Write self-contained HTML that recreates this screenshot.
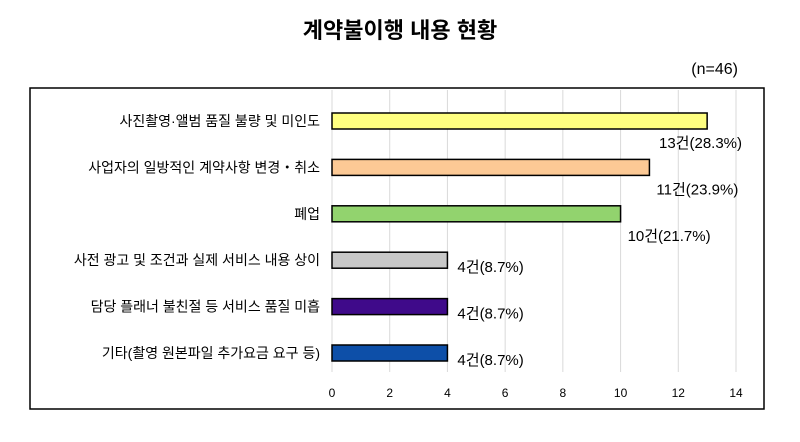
<!DOCTYPE html>
<html><head><meta charset="utf-8"><style>
body{margin:0;background:#fff;width:800px;height:437px;overflow:hidden;font-family:"Liberation Sans","Noto Sans CJK KR",sans-serif;}
</style></head><body>
<svg width="800" height="437" xmlns="http://www.w3.org/2000/svg">
<text x="400" y="38" text-anchor="middle" font-size="22" font-weight="bold" fill="#000" font-family="Liberation Sans, Noto Sans CJK KR, sans-serif">계약불이행 내용 현황</text>
<text x="738" y="74" text-anchor="end" font-size="16" fill="#000" font-family="Liberation Sans, Noto Sans CJK KR, sans-serif">(n=46)</text>
<rect x="30" y="88" width="734" height="321" fill="none" stroke="#000" stroke-width="1.5"/>
<g id="grid"></g><g id="bars"></g><g id="labels"></g>
</svg>
<script>
const categories=["사진촬영·앨범 품질 불량 및 미인도","사업자의 일방적인 계약사항 변경・취소","폐업","사전 광고 및 조건과 실제 서비스 내용 상이","담당 플래너 불친절 등 서비스 품질 미흡","기타(촬영 원본파일 추가요금 요구 등)"];
const values=[13,11,10,4,4,4];
const valueLabels=["13건(28.3%)","11건(23.9%)","10건(21.7%)","4건(8.7%)","4건(8.7%)","4건(8.7%)"];
const ticks=[0,2,4,6,8,10,12,14];
const colors=["#ffff80","#fcc995","#92d36e","#c8c8c8","#3f0a8a","#0d4fa8"];
const NS="http://www.w3.org/2000/svg";
const x=v=>332+v*(736-332)/14;
const y=i=>113+i*46.4;
const F="Liberation Sans, Noto Sans CJK KR, sans-serif";
function mk(t,a,p){const e=document.createElementNS(NS,t);for(const k in a)e.setAttribute(k,a[k]);p.appendChild(e);return e;}
const g=document.getElementById('grid'),b=document.getElementById('bars'),l=document.getElementById('labels');
ticks.forEach(t=>{
 const ln=mk('line',{x1:x(t),x2:x(t),y1:90,y2:372,stroke:'#d9d9d9','stroke-width':1},g);
 
 
 const tx=mk('text',{x:x(t),y:397,'text-anchor':'middle','font-size':12,'font-family':F,fill:'#000'},l);
 tx.textContent=t;
 
 
});
categories.forEach((c,i)=>{
 const r=mk('rect',{x:x(0),y:y(i),width:x(values[i])-x(0),height:16,fill:colors[i],stroke:'#000','stroke-width':1.5},b);
 
 
 const ct=mk('text',{x:320,y:y(i)+13,'text-anchor':'end','font-size':14,'font-family':F,fill:'#000'},l);
 ct.textContent=c;
 
 
 const big=values[i]>8;
 const vt=mk('text',{x:big?Math.min(x(values[i])+7,659):x(values[i])+10,y:big?y(i)+35:y(i)+20,'font-size':15,'font-family':F,fill:'#000'},l);
 vt.textContent=valueLabels[i];
 
 
});
</script>
</body></html>
